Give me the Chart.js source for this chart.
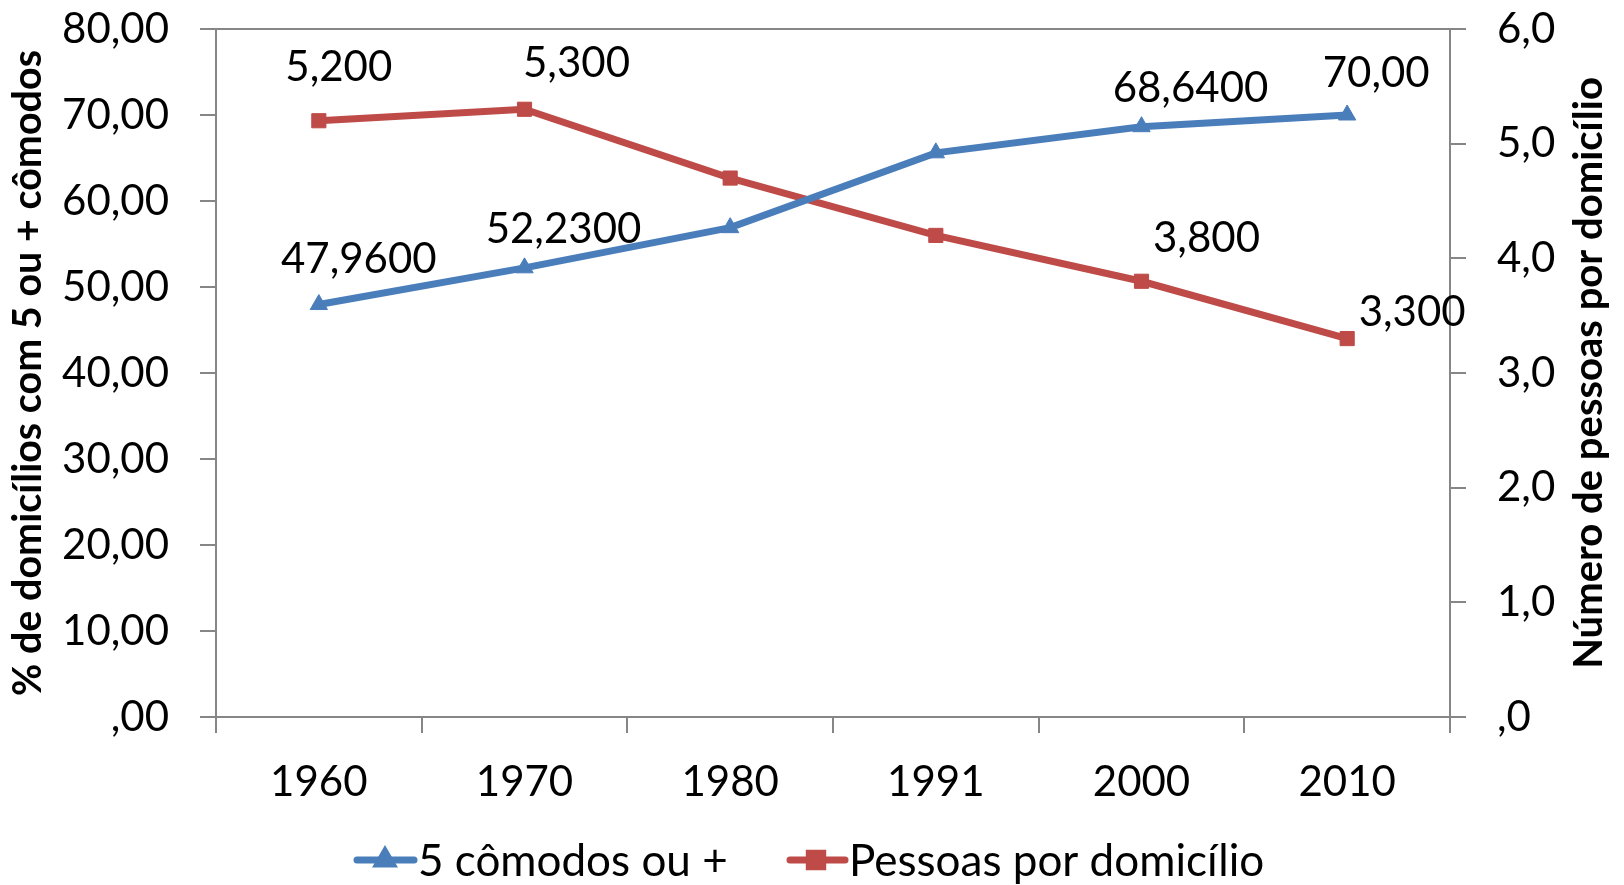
<!DOCTYPE html>
<html>
<head>
<meta charset="utf-8">
<script src="https://cdn.jsdelivr.net/npm/chart.js@4.4.1/dist/chart.umd.min.js"></script>
<style>
  html, body { margin: 0; padding: 0; background: #fff; }
  #wrap { width: 1624px; height: 885px; position: relative; }
</style>
</head>
<body>
<div id="wrap"><canvas id="chart"></canvas></div>
<script>
const years = ['1960', '1970', '1980', '1991', '2000', '2010'];
const comodos = [47.96, 52.23, 56.9, 65.6, 68.64, 70.00];
const pessoas = [5.2, 5.3, 4.7, 4.2, 3.8, 3.3];
const comodosLabels = ['47,9600', '52,2300', null, null, '68,6400', '70,00'];
const pessoasLabels = ['5,200', '5,300', null, null, '3,800', '3,300'];
const leftTickLabels = [',00', '10,00', '20,00', '30,00', '40,00', '50,00', '60,00', '70,00', '80,00'];
const rightTickLabels = [',0', '1,0', '2,0', '3,0', '4,0', '5,0', '6,0'];

const FONT = 'Lato, "Open Sans", sans-serif';
const AXIS = '#868686';
const BLUE = '#4A7EBB';
const RED = '#BE4B48';

// label centre offsets from the point, in px
const comodosOffsets = [[40, -47], [39, -40], null, null, [49, -40], [29, -43]];
const pessoasOffsets = [[20, -55], [52, -47], null, null, [65, -44], [65, -28]];

const pointLabels = {
  id: 'pointLabels',
  afterDatasetsDraw(chart) {
    const ctx = chart.ctx;
    ctx.save();
    ctx.font = '42px ' + FONT;
    ctx.fillStyle = '#000';
    ctx.textAlign = 'center';
    ctx.textBaseline = 'alphabetic';
    chart.data.datasets.forEach((ds, i) => {
      const meta = chart.getDatasetMeta(i);
      meta.data.forEach((pt, j) => {
        const txt = ds.labelTexts[j];
        const off = ds.labelOffsets[j];
        if (!txt || !off) return;
        ctx.fillText(txt, pt.x + off[0], pt.y + off[1] + 15);
      });
    });
    ctx.restore();
  }
};

const extras = {
  id: 'extras',
  afterDraw(chart) {
    const ctx = chart.ctx;
    ctx.save();
    // right axis title, reads bottom to top
    ctx.font = 'bold 40px ' + FONT;
    ctx.fillStyle = '#000';
    ctx.translate(1589, (chart.chartArea.top + chart.chartArea.bottom) / 2);
    ctx.rotate(-Math.PI / 2);
    ctx.textAlign = 'center';
    ctx.textBaseline = 'middle';
    ctx.fillText('Número de pessoas por domicílio', 0, 0);
    ctx.restore();

    // legend
    const items = [
      { ds: chart.data.datasets[0], x0: 357, x1: 414, mx: 385, tx: 418, r: 8 },
      { ds: chart.data.datasets[1], x0: 790, x1: 845, mx: 816, tx: 849, r: 9.5 }
    ];
    const y = 860;
    items.forEach(it => {
      ctx.save();
      ctx.strokeStyle = it.ds.borderColor;
      ctx.lineWidth = 7;
      ctx.lineCap = 'round';
      ctx.beginPath();
      ctx.moveTo(it.x0, y);
      ctx.lineTo(it.x1, y);
      ctx.stroke();
      ctx.fillStyle = it.ds.pointBackgroundColor;
      ctx.strokeStyle = it.ds.pointBorderColor;
      Chart.helpers.drawPoint(ctx, {
        pointStyle: it.ds.pointStyle, radius: it.r, borderWidth: 1, rotation: 0
      }, it.mx, y);
      ctx.fillStyle = '#000';
      ctx.font = '44px ' + FONT;
      ctx.textAlign = 'left';
      ctx.textBaseline = 'alphabetic';
      ctx.fillText(it.ds.label, it.tx, y + 16);
      ctx.restore();
    });
  }
};

// y axes: fixed width, no extra top/bottom padding from tick labels
function fitY(width) {
  return scale => {
    scale.width = width;
    scale.paddingTop = 0;
    scale.paddingBottom = 0;
  };
}

new Chart(document.getElementById('chart'), {
  type: 'line',
  data: {
    labels: years,
    datasets: [
      {
        label: '5 cômodos ou +',
        data: comodos,
        yAxisID: 'y',
        borderColor: BLUE,
        backgroundColor: BLUE,
        pointBackgroundColor: BLUE,
        pointBorderColor: BLUE,
        borderWidth: 7,
        pointStyle: 'triangle',
        pointRadius: 10,
        pointBorderWidth: 1,
        tension: 0,
        labelTexts: comodosLabels,
        labelOffsets: comodosOffsets
      },
      {
        label: 'Pessoas por domicílio',
        data: pessoas,
        yAxisID: 'y1',
        borderColor: RED,
        backgroundColor: RED,
        pointBackgroundColor: RED,
        pointBorderColor: RED,
        borderWidth: 7,
        pointStyle: 'rect',
        pointRadius: 10,
        pointBorderWidth: 1,
        tension: 0,
        labelTexts: pessoasLabels,
        labelOffsets: pessoasOffsets
      }
    ]
  },
  options: {
    responsive: true,
    maintainAspectRatio: false,
    animation: false,
    layout: { padding: { top: 29, bottom: 58, left: 0, right: 0 } },
    plugins: {
      legend: { display: false },
      tooltip: { enabled: false }
    },
    scales: {
      x: {
        offset: true,
        grid: {
          offset: true,
          drawOnChartArea: false,
          tickLength: 16,
          color: AXIS,
          lineWidth: 2
        },
        border: { color: AXIS, width: 2 },
        ticks: {
          color: '#000',
          font: { family: FONT, size: 42 },
          padding: 24,
          maxRotation: 0
        },
        afterFit(scale) {
          scale.height = 110;
          scale.paddingLeft = 0;
          scale.paddingRight = 0;
        }
      },
      y: {
        position: 'left',
        min: 0,
        max: 80,
        grid: {
          color: ctx => (ctx.tick && ctx.tick.value === 80 ? AXIS : 'transparent'),
          tickColor: AXIS,
          tickLength: 16,
          lineWidth: 2
        },
        border: { color: AXIS, width: 2 },
        ticks: {
          stepSize: 10,
          color: '#000',
          font: { family: FONT, size: 42 },
          padding: 31,
          callback: (v, i) => leftTickLabels[i]
        },
        title: {
          display: true,
          text: '% de domicílios com 5 ou + cômodos',
          color: '#000',
          font: { family: FONT, size: 39.5, weight: 'bold' },
          padding: { top: 5, bottom: 0 }
        },
        afterFit: fitY(216)
      },
      y1: {
        position: 'right',
        min: 0,
        max: 6,
        grid: {
          drawOnChartArea: false,
          color: AXIS,
          tickLength: 16,
          lineWidth: 2
        },
        border: { color: AXIS, width: 2 },
        ticks: {
          stepSize: 1,
          color: '#000',
          font: { family: FONT, size: 42 },
          padding: 31,
          callback: (v, i) => rightTickLabels[i]
        },
        afterFit: fitY(174)
      }
    }
  },
  plugins: [pointLabels, extras]
});
</script>
</body>
</html>
